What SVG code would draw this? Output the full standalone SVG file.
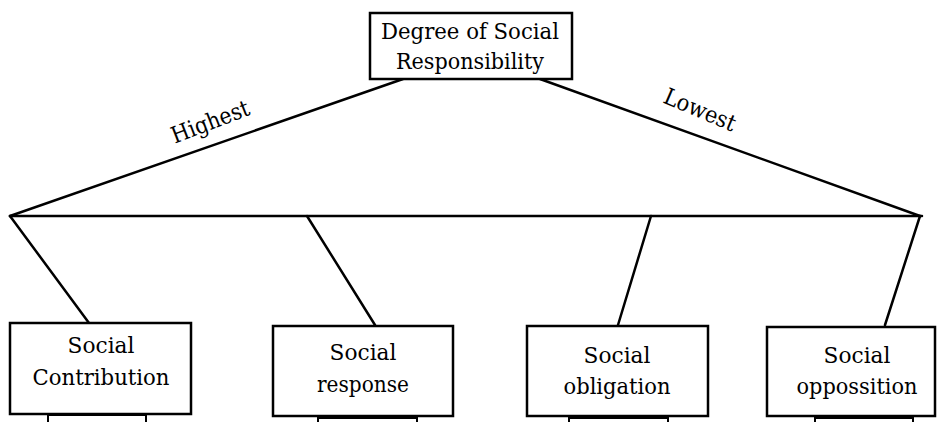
<svg xmlns="http://www.w3.org/2000/svg" width="938" height="422" viewBox="0 0 938 422">
<style>
.box{fill:#fff;stroke:#000;stroke-width:2.5}
.sub{fill:none;stroke:#000;stroke-width:2}
.t{font-family:'DejaVu Serif','Liberation Serif',serif;font-size:23px;fill:#000;text-anchor:middle}
.c{stroke:#000;stroke-width:2.5;fill:none;stroke-linecap:round}
</style>
<rect width="938" height="422" fill="#fff"/>
<g id="connectors">
<line class="c" x1="403" y1="79" x2="10" y2="216"/>
<line class="c" x1="540" y1="79" x2="920" y2="216"/>
<line class="c" x1="10" y1="216" x2="922" y2="216"/>
<line class="c" x1="10" y1="216" x2="89" y2="323"/>
<line class="c" x1="307" y1="216" x2="375" y2="325"/>
<line class="c" x1="651" y1="216" x2="618" y2="325"/>
<line class="c" x1="920" y1="216" x2="885" y2="325"/>
<text class="t" transform="translate(213,129) rotate(-21)" textLength="82" lengthAdjust="spacingAndGlyphs">Highest</text>
<text class="t" transform="translate(697,117) rotate(23)" textLength="76" lengthAdjust="spacingAndGlyphs">Lowest</text>
</g>
<g id="top">
<rect class="box" x="370" y="13" width="202" height="66"/>
<text class="t" x="470" y="39" textLength="178" lengthAdjust="spacingAndGlyphs">Degree of Social</text>
<text class="t" x="470" y="69" textLength="148" lengthAdjust="spacingAndGlyphs">Responsibility</text>
</g>
<g id="contribution">
<rect class="sub" x="48" y="415" width="98" height="20"/>
<rect class="box" x="10" y="323" width="181" height="91"/>
<text class="t" x="101" y="353" textLength="67" lengthAdjust="spacingAndGlyphs">Social</text>
<text class="t" x="101" y="385" textLength="137" lengthAdjust="spacingAndGlyphs">Contribution</text>
</g>
<g id="response">
<rect class="sub" x="318" y="418" width="99" height="20"/>
<rect class="box" x="273" y="326" width="180" height="90"/>
<text class="t" x="363" y="360" textLength="67" lengthAdjust="spacingAndGlyphs">Social</text>
<text class="t" x="363" y="392" textLength="92" lengthAdjust="spacingAndGlyphs">response</text>
</g>
<g id="obligation">
<rect class="sub" x="569" y="418" width="99" height="20"/>
<rect class="box" x="527" y="326" width="181" height="90"/>
<text class="t" x="617" y="363" textLength="67" lengthAdjust="spacingAndGlyphs">Social</text>
<text class="t" x="617" y="394" textLength="107" lengthAdjust="spacingAndGlyphs">obligation</text>
</g>
<g id="opposition">
<rect class="sub" x="815" y="418" width="98" height="20"/>
<rect class="box" x="767" y="327" width="168" height="89"/>
<text class="t" x="857" y="363" textLength="67" lengthAdjust="spacingAndGlyphs">Social</text>
<text class="t" x="857" y="394" textLength="121" lengthAdjust="spacingAndGlyphs">oppossition</text>
</g>
</svg>
